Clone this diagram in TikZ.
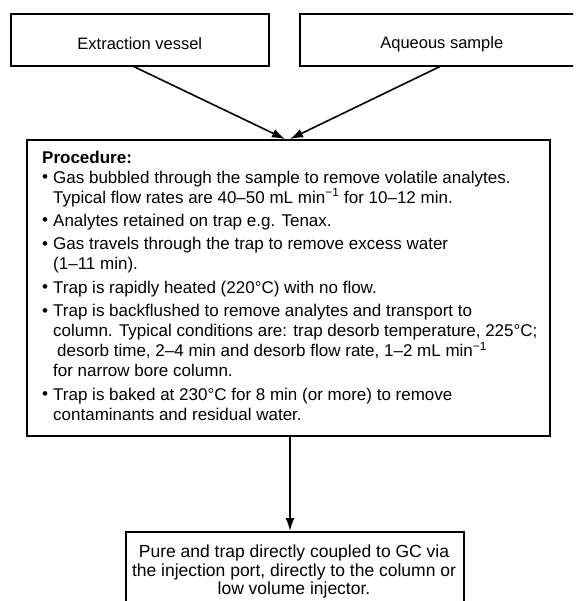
\documentclass[tikz,border=0pt]{standalone}
\usepackage{fontspec}
\setmainfont{Liberation Sans}
\usetikzlibrary{arrows.meta}

\newcommand{\bul}{\makebox[11pt][l]{\raisebox{0.5pt}{\textbullet}}}
\newcommand{\ind}{\hspace{11pt}}
\newcommand{\sumin}{min\textsuperscript{−1}}

\tikzset{
  box/.style={draw, line width=1.6pt, rectangle, inner sep=0pt, anchor=north west},
  lbl/.style={font=\fontsize{16.5}{20}\selectfont, align=center, inner sep=0pt},
  link/.style={line width=1.6pt, -{Latex[length=13pt,width=9pt]}},
}

\begin{document}
\begin{tikzpicture}[x=1pt,y=-1pt]
  \useasboundingbox (0,0) rectangle (577,601);
  \clip (0,0) rectangle (573,601);

  % source boxes
  \node[box, minimum width=258pt, minimum height=52pt] (ev) at (10,13) {};
  \node[lbl] (evtext) at ([yshift=-4pt]ev.center) {Extraction vessel};
  \node[box, minimum width=284pt, minimum height=52pt] (aq) at (299,13) {};
  \node[lbl] (aqtext) at ([yshift=-4pt]aq.center) {Aqueous sample};

  % procedure box
  \node[box, minimum width=523pt, minimum height=296pt] (proc) at (26,139) {};
  \node[anchor=north west, align=left, inner sep=0pt,
        font=\fontsize{17}{20}\selectfont] (steps) at (42,150.5) {%
    \textbf{Procedure:}\\
    \bul Gas bubbled through the sample to remove volatile analytes.\\
    \ind Typical flow rates are 40–50 mL \sumin\ for 10–12 min.\\[3.4pt]
    \bul Analytes retained on trap e.g. Tenax.\\[3.4pt]
    \bul Gas travels through the trap to remove excess water\\
    \ind (1–11 min).\\[3.4pt]
    \bul Trap is rapidly heated (220°C) with no flow.\\[3.4pt]
    \bul Trap is backflushed to remove analytes and transport to\\
    \ind column. Typical conditions are: trap desorb temperature, 225°C;\\
    \ind\hspace{4pt}desorb time, 2–4 min and desorb flow rate, 1–2 mL \sumin\\
    \ind for narrow bore column.\\[3.4pt]
    \bul Trap is baked at 230°C for 8 min (or more) to remove\\
    \ind contaminants and residual water.};

  % result box, running past the lower edge
  \node[box, minimum width=338pt, minimum height=90pt] (gc) at (125,531) {};
  \node[lbl, anchor=north, font=\fontsize{17.5}{18.5}\selectfont] (gctext) at (294,545)
    {Pure and trap directly coupled to GC via\\
     the injection port, directly to the column or\\
     low volume injector.};

  % connectors
  \coordinate (tipL) at (285,139);
  \coordinate (tipR) at (290,139);
  \coordinate (down) at (290,435);
  \draw[link] ([xshift=-6pt]ev.south) -- (tipL);
  \draw[link] ([xshift=-2pt]aq.south) -- (tipR);
  \draw[link] (down) -- (down |- gc.north);
\end{tikzpicture}
\end{document}
